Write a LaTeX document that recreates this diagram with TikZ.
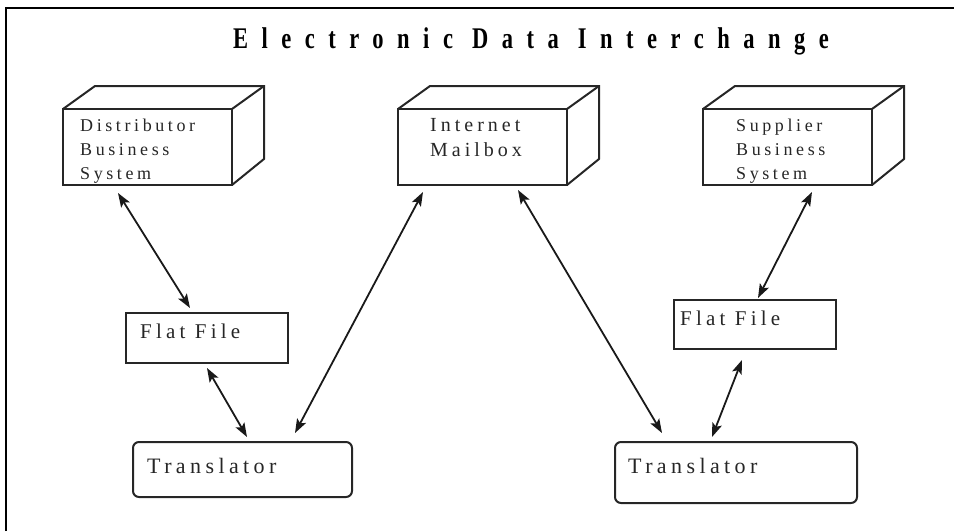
\documentclass[tikz,border=0pt]{standalone}
\usepackage{fontspec}
\setmainfont{Liberation Serif}
\newfontfamily\spacedfont[LetterSpace=20]{Liberation Serif}
\newfontfamily\titlefont[LetterSpace=60]{Liberation Serif}
\usetikzlibrary{calc,arrows.meta}
\tikzset{
  boxline/.style={draw=black!85, line width=2pt, line join=miter},
  face/.style={boxline, rectangle, inner sep=0pt, outer sep=0pt, anchor=north west},
  rface/.style={face, rounded corners=6pt},
  lbl/.style={inner sep=0pt, anchor=base west, align=left, text=black!85},
  dbl/.style={draw=black!90, line width=1.8pt,
    {Stealth[length=14pt,width=10pt,inset=3pt]}-{Stealth[length=14pt,width=10pt,inset=3pt]}},
}
\begin{document}
\begin{tikzpicture}[x=1pt,y=-1pt]
\useasboundingbox (0,0) rectangle (954,531);
\draw[line width=1.4pt] (6,531) -- (6,8) -- (954,8);

% title
\node[inner sep=0pt, anchor=base] (title) at (531,48)
  {\scalebox{0.75}[1]{\titlefont\bfseries\fontsize{30}{30}\selectfont Electronic Data Interchange}};

% 3D boxes (front faces)
\node[face, minimum width=169pt, minimum height=76pt] (dist) at (63,109) {};
\node[face, minimum width=169pt, minimum height=76pt] (mail) at (398,109) {};
\node[face, minimum width=169pt, minimum height=76pt] (sup) at (703,109) {};
\foreach \b in {dist,mail,sup}{
  \draw[boxline] (\b.north west) -- ++(32,-23) -| ($(\b.south east)+(32,-26)$) -- (\b.south east);
  \draw[boxline] (\b.north east) -- ++(32,-23);
}

% flat files and translators
\node[face, minimum width=162pt, minimum height=50pt] (ffl) at (126,313) {};
\node[face, minimum width=162pt, minimum height=49pt] (ffr) at (674,300) {};
\node[rface, minimum width=219pt, minimum height=55pt] (trl) at (133,442) {};
\node[rface, minimum width=242pt, minimum height=61pt] (trr) at (615,442) {};

% labels
\begin{scope}[every node/.append style={font=\spacedfont\fontsize{18}{24}\selectfont}]
\node[lbl] (distT) at ($(dist.north west)+(17,70)$) {Distributor\\Business\\System};
\node[lbl] (supT) at ($(sup.north west)+(33,70)$) {Supplier\\Business\\System};
\end{scope}
\node[lbl, font=\spacedfont\fontsize{20}{25}\selectfont] (mailT) at ($(mail.north west)+(32,47)$) {Internet\\Mailbox};
\node[lbl, font=\spacedfont\fontsize{21}{25}\selectfont] (fflT) at ($(ffl.north west)+(14,25)$) {Flat File};
\node[lbl, font=\spacedfont\fontsize{21}{25}\selectfont] (ffrT) at ($(ffr.north west)+(6,25)$) {Flat File};
\node[lbl, font=\spacedfont\fontsize{22}{25}\selectfont] (trlT) at ($(trl.north west)+(14,31)$) {Translator};
\node[lbl, font=\spacedfont\fontsize{22}{25}\selectfont] (trrT) at ($(trr.north west)+(13,31)$) {Translator};

% connectors
\draw[dbl] ($(dist.south west)+(55,8)$) -- ($(ffl.north west)+(64,-5)$);
\draw[dbl] ($(ffl.south west)+(81,5)$) -- ($(trl.north west)+(114,-5)$);
\draw[dbl] ($(mail.south west)+(25,7)$) -- ($(trl.north west)+(162,-9)$);
\draw[dbl] ($(mail.south west)+(120,5)$) -- ($(trr.north west)+(47,-9)$);
\draw[dbl] ($(sup.south west)+(109,7)$) -- ($(ffr.north west)+(84,-2)$);
\draw[dbl] ($(ffr.south west)+(68,11)$) -- ($(trr.north west)+(97,-5)$);
\end{tikzpicture}
\end{document}
